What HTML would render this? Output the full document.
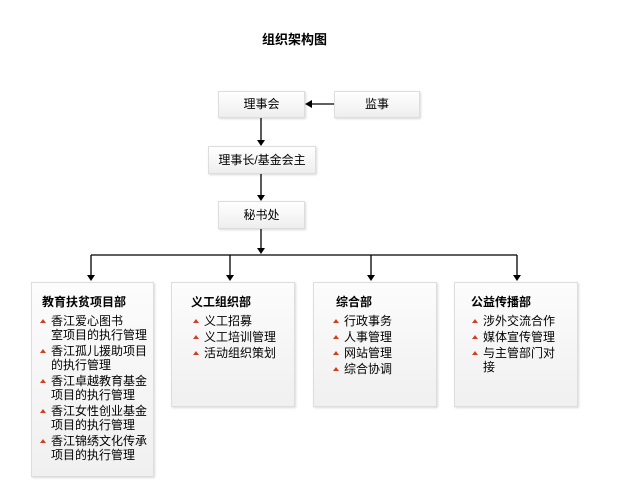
<!DOCTYPE html>
<html><head><meta charset="utf-8"><style>
body{margin:0;width:618px;height:491px;background:#fff;position:relative;font-family:"Liberation Sans","Noto Sans CJK SC",sans-serif;font-size:12px;color:#000;overflow:hidden}
.b{position:absolute;border:1px solid #ddd;background:linear-gradient(#fff,#eee);box-shadow:1px 1px 2px rgba(0,0,0,.15);box-sizing:border-box;text-align:center}
.d{position:absolute;border:1px solid #ddd;background:linear-gradient(#fcfcfc,#f0f0f0);box-shadow:1px 1px 2px rgba(0,0,0,.15);box-sizing:border-box}
.t{font-weight:bold;position:absolute;top:10px;font-size:12px}
ul{list-style:none;margin:0;padding:0;position:absolute;top:31px;line-height:14px}
li{position:relative;padding-left:11px;margin-bottom:2px}
li:before{content:"";position:absolute;left:0;top:5px;border-left:3px solid transparent;border-right:3px solid transparent;border-bottom:4px solid #d04020}
</style></head><body>
<div style="position:absolute;left:262px;top:29px;font-size:13px;font-weight:bold">组织架构图</div>
<svg width="618" height="491" style="position:absolute;left:0;top:0">
<g stroke="#000" stroke-width="1.3" fill="none">
<line x1="261" y1="118" x2="261" y2="140"/><line x1="261" y1="174" x2="261" y2="195"/><line x1="261" y1="229" x2="261" y2="250"/>
<line x1="334" y1="104" x2="312" y2="104"/>
<line x1="91" y1="255" x2="517" y2="255"/>
<line x1="91" y1="255" x2="91" y2="276"/><line x1="230" y1="255" x2="230" y2="276"/><line x1="371" y1="255" x2="371" y2="276"/><line x1="517" y1="255" x2="517" y2="276"/>
</g>
<g fill="#000">
<path d="M257 140h8l-4 6z"/><path d="M257 195h8l-4 6z"/><path d="M257 248h8l-4 6z"/>
<path d="M312 100v8l-7-4z"/>
<path d="M87 275h8l-4 6z"/><path d="M226 275h8l-4 6z"/><path d="M367 275h8l-4 6z"/><path d="M513 275h8l-4 6z"/>
</g></svg>
<div class="b" style="left:218px;top:91px;width:87px;height:27px;line-height:25px">理事会</div>
<div class="b" style="left:334px;top:91px;width:86px;height:27px;line-height:25px">监事</div>
<div class="b" style="left:208px;top:146px;width:108px;height:28px;line-height:26px">理事长/基金会主</div>
<div class="b" style="left:218px;top:201px;width:87px;height:28px;line-height:26px">秘书处</div>
<div class="d" style="left:31px;top:282px;width:123px;height:195px">
<div class="t" style="left:10px">教育扶贫项目部</div>
<ul style="left:8px;width:112px"><li>香江爱心图书<br>室项目的执行管理</li><li>香江孤儿援助项目的执行管理</li><li>香江卓越教育基金项目的执行管理</li><li>香江女性创业基金项目的执行管理</li><li>香江锦绣文化传承项目的执行管理</li></ul></div>
<div class="d" style="left:171px;top:282px;width:124px;height:125px">
<div class="t" style="left:19px">义工组织部</div>
<ul style="left:21px"><li>义工招募</li><li>义工培训管理</li><li>活动组织策划</li></ul></div>
<div class="d" style="left:313px;top:282px;width:124px;height:125px">
<div class="t" style="left:22px">综合部</div>
<ul style="left:19px"><li>行政事务</li><li>人事管理</li><li>网站管理</li><li>综合协调</li></ul></div>
<div class="d" style="left:454px;top:282px;width:124px;height:125px">
<div class="t" style="left:16px">公益传播部</div>
<ul style="left:17px;width:100px"><li>涉外交流合作</li><li>媒体宣传管理</li><li>与主管部门对<br>接</li></ul></div>
</body></html>
